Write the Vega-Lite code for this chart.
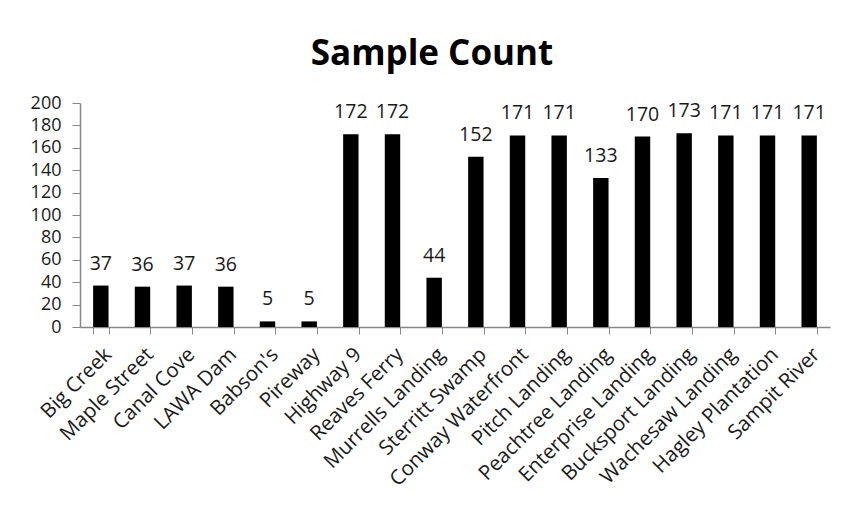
{
  "$schema": "https://vega.github.io/schema/vega-lite/v6.json",
  "width": 750,
  "height": 224,
  "autosize": {"type": "none"},
  "padding": {"left": 80, "top": 103, "right": 18, "bottom": 186},
  "background": "white",
  "title": {
    "text": "Sample Count",
    "font": "Open Sans",
    "fontSize": 35,
    "fontWeight": "bold",
    "color": "#000000",
    "anchor": "middle",
    "dx": -23,
    "offset": 22
  },
  "data": {
    "values": [
      {"site": "Big Creek", "count": 37},
      {"site": "Maple Street", "count": 36},
      {"site": "Canal Cove", "count": 37},
      {"site": "LAWA Dam", "count": 36},
      {"site": "Babson's", "count": 5},
      {"site": "Pireway", "count": 5},
      {"site": "Highway 9", "count": 172},
      {"site": "Reaves Ferry", "count": 172},
      {"site": "Murrells Landing", "count": 44},
      {"site": "Sterritt Swamp", "count": 152},
      {"site": "Conway Waterfront", "count": 171},
      {"site": "Pitch Landing", "count": 171},
      {"site": "Peachtree Landing", "count": 133},
      {"site": "Enterprise Landing", "count": 170},
      {"site": "Bucksport Landing", "count": 173},
      {"site": "Wachesaw Landing", "count": 171},
      {"site": "Hagley Plantation", "count": 171},
      {"site": "Sampit River", "count": 171}
    ]
  },
  "encoding": {
    "x": {
      "field": "site",
      "type": "nominal",
      "sort": null,
      "title": null,
      "scale": {"paddingInner": 0.63, "paddingOuter": 0.315},
      "axis": {
        "labelAngle": -45,
        "labelAlign": "right",
        "labelBaseline": "top",
        "labelFont": "Open Sans",
        "labelFontSize": 20.5,
        "labelColor": "#1a1a1a",
        "labelPadding": 10,
        "labelDx": 3,
        "tickBand": "extent",
        "tickSize": 7,
        "tickColor": "#868686",
        "domainColor": "#868686",
        "domainWidth": 1.5,
        "labelOverlap": false,
        "labelLimit": 300
      }
    },
    "y": {
      "field": "count",
      "type": "quantitative",
      "title": null,
      "scale": {"domain": [0, 200], "nice": false},
      "axis": {
        "values": [0, 20, 40, 60, 80, 100, 120, 140, 160, 180, 200],
        "grid": false,
        "labelFont": "Open Sans",
        "labelFontSize": 18,
        "labelColor": "#1a1a1a",
        "labelPadding": 11,
        "tickSize": 8,
        "tickColor": "#868686",
        "domainColor": "#868686",
        "domainWidth": 1.5
      }
    }
  },
  "layer": [
    {"mark": {"type": "bar", "color": "#000000"}},
    {
      "mark": {
        "type": "text",
        "baseline": "alphabetic",
        "dy": -16,
        "font": "Open Sans",
        "fontSize": 19.5,
        "color": "#1a1a1a"
      },
      "encoding": {"text": {"field": "count", "type": "quantitative"}}
    }
  ],
  "config": {"view": {"stroke": null}}
}
